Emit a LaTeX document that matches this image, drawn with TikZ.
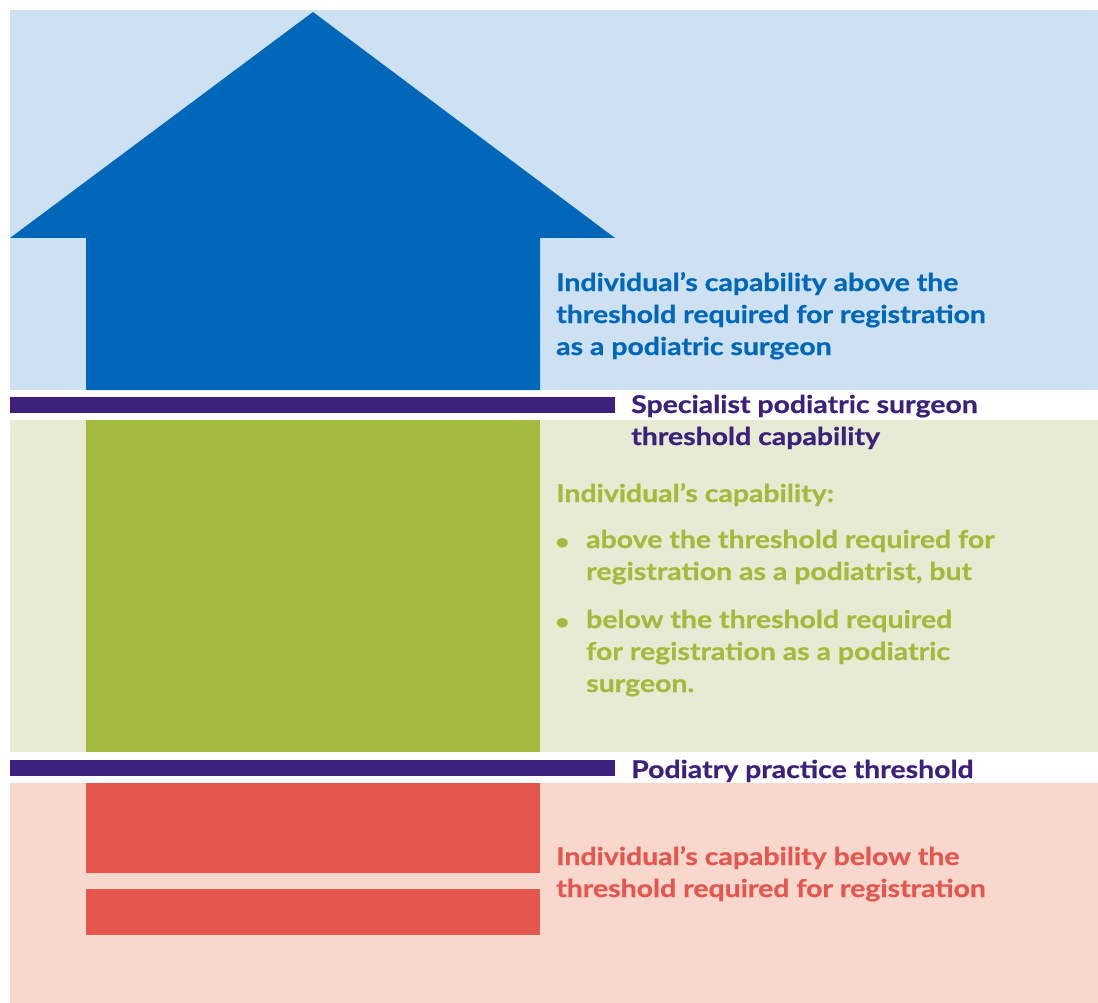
\documentclass[tikz,border=0pt]{standalone}
\usepackage{fontspec}
\setmainfont{Lato}[BoldFeatures={FakeStretch=1.16, FakeBold=0.7}]
\usetikzlibrary{positioning}

\definecolor{skyBg}{HTML}{CDE1F2}
\definecolor{skyFg}{HTML}{0067B9}
\definecolor{leafBg}{HTML}{E8EBD3}
\definecolor{leafFg}{HTML}{A3BB3C}
\definecolor{roseBg}{HTML}{F8D8CD}
\definecolor{roseFg}{HTML}{E5564F}
\definecolor{plum}{HTML}{3B217B}

\begin{document}
\begin{tikzpicture}
			[x=1pt, y=-1pt,
			 lbl/.style={anchor=base west, inner sep=0pt, align=left, text=#1,
			   font=\bfseries\fontsize{24.5}{32}\selectfont},
			 dot/.style={anchor=base west, inner sep=0pt, text=leafFg,
			   font=\bfseries\fontsize{21}{24}\selectfont},]
          	\useasboundingbox (0,0) rectangle (1098,1003);
          	% bands
          	\fill[skyBg] (10,10) rectangle (1098,390);
          	\fill[leafBg] (10,420) rectangle (1098,752);
          	\fill[roseBg] (10,783) rectangle (1098,1003);
          	% arrow and blocks
          	\fill[skyFg] (313,12) -- (615,238) -- (540,238) -- (540,390)
          	  -- (86,390) -- (86,238) -- (10,238) -- cycle;
          	\fill[leafFg] (86,420) rectangle (540,752);
          	\fill[roseFg] (86,783) rectangle (540,873);
          	\fill[roseFg] (86,889) rectangle (540,935);
          	% thresholds (anchors sit on the last line)
          	\fill[plum] (10,397) rectangle (615,413);
          	\fill[plum] (10,760) rectangle (615,776);
          	\node[lbl=plum] (surgLine) at (631,445) {Specialist podiatric surgeon\\threshold capability};
          	\node[lbl=plum] (practLine) at (631,778) {Podiatry practice threshold};
          	% descriptions
          	\node[lbl=skyFg] (above) at (556,355) {Individual's capability above the\\threshold required for registration\\as a podiatric surgeon};
          	\node[lbl=leafFg] (midHead) at (556,502) {Individual's capability:};
          	\node[dot] (dotA) at (555,549) {•};
          	\node[lbl=leafFg] (itemA) at (586,580) {above the threshold required for\\registration as a podiatrist, but};
          	\node[dot] (dotB) at (555,629) {•};
          	\node[lbl=leafFg] (itemB) at (586,692) {below the threshold required\\for registration as a podiatric\\surgeon.};
          	\node[lbl=roseFg] (below) at (556,897) {Individual's capability below the\\threshold required for registration};
			\end{tikzpicture}
\end{document}
